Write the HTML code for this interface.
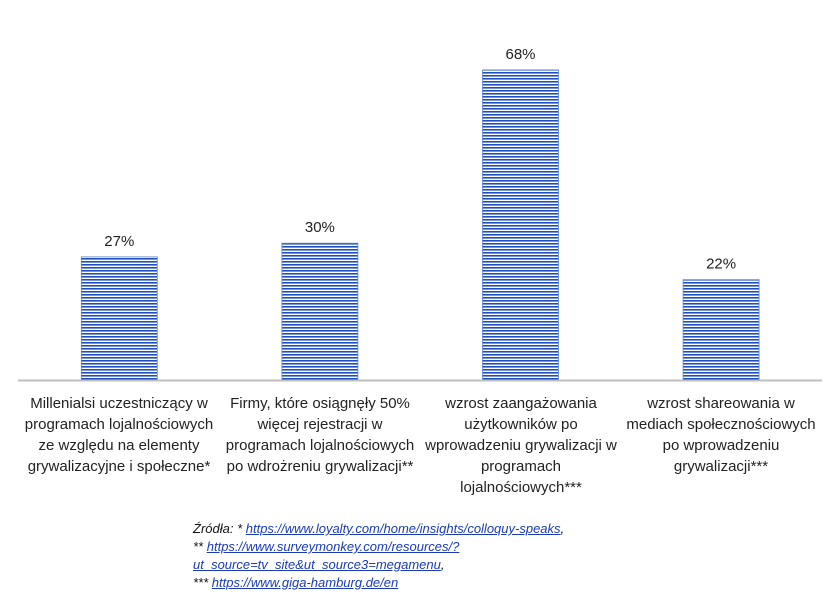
<!DOCTYPE html>
<html><head><meta charset="utf-8"><style>
body{margin:0;background:#fff;font-family:"Liberation Sans",sans-serif}
#wrap{position:relative;width:840px;height:614px;overflow:hidden}
.cat{position:absolute;width:200px;text-align:center;font-size:15px;line-height:21px;color:#222;top:393px}
#src{position:absolute;left:193px;top:520px;font-size:13px;line-height:18px;font-style:italic;color:#111}
#src u{color:#1a3bb5}
</style></head><body>
<div id="wrap">
<svg id="svg" width="840" height="614" style="position:absolute;left:0;top:0">
<defs><pattern id="stripes" width="4" height="3" patternUnits="userSpaceOnUse"><rect width="4" height="3" fill="#fff"/><rect width="4" height="1.6" fill="#1f4fbf"/></pattern></defs>
</svg>
<div class="cat" style="left:19px">Millenialsi uczestniczący w programach lojalnościowych ze względu na elementy grywalizacyjne i społeczne*</div>
<div class="cat" style="left:220px">Firmy, które osiągnęły 50% więcej rejestracji w programach lojalnościowych po wdrożreniu grywalizacji**</div>
<div class="cat" style="left:421px">wzrost zaangażowania użytkowników po wprowadzeniu grywalizacji w programach lojalnościowych***</div>
<div class="cat" style="left:621px">wzrost shareowania w mediach społecznościowych po wprowadzeniu grywalizacji***</div>
<div id="src">Źródła: * <u>https://www.loyalty.com/home/insights/colloquy-speaks</u>,<br>** <u>https://www.surveymonkey.com/resources/?<br>ut_source=tv_site&amp;ut_source3=megamenu</u>,<br>*** <u>https://www.giga-hamburg.de/en</u></div>
</div>
<script>
const values=[27,30,68,22];
const labels=["27%","30%","68%","22%"];
const svg=document.getElementById('svg');
const NS='http://www.w3.org/2000/svg';
const baseY=380, pxPer=4.56, x0=19, step=200.6, bw=76;
function y(v){return baseY-v*pxPer;}
function xc(i){return x0+step*i+step/2;}
values.forEach((v,i)=>{
 const r=document.createElementNS(NS,'rect');
 r.setAttribute('x',xc(i)-bw/2);r.setAttribute('y',y(v));
 r.setAttribute('width',bw);r.setAttribute('height',baseY-y(v));
 r.setAttribute('fill','url(#stripes)');r.setAttribute('stroke','#5a84d6');r.setAttribute('stroke-width','0.8');
 
 
 svg.appendChild(r);
 const t=document.createElementNS(NS,'text');
 t.setAttribute('x',xc(i));t.setAttribute('y',y(v)-11);
 t.setAttribute('text-anchor','middle');t.setAttribute('font-size','15');t.setAttribute('fill','#222');
 t.setAttribute('font-family','Liberation Sans, sans-serif');
 t.textContent=labels[i];
 
 
 svg.appendChild(t);
});
const ax=document.createElementNS(NS,'line');
ax.setAttribute('x1',18);ax.setAttribute('x2',822);ax.setAttribute('y1',baseY+0.5);ax.setAttribute('y2',baseY+0.5);
ax.setAttribute('stroke','#bfbfbf');ax.setAttribute('stroke-width','2');


svg.appendChild(ax);
</script>
</body></html>
